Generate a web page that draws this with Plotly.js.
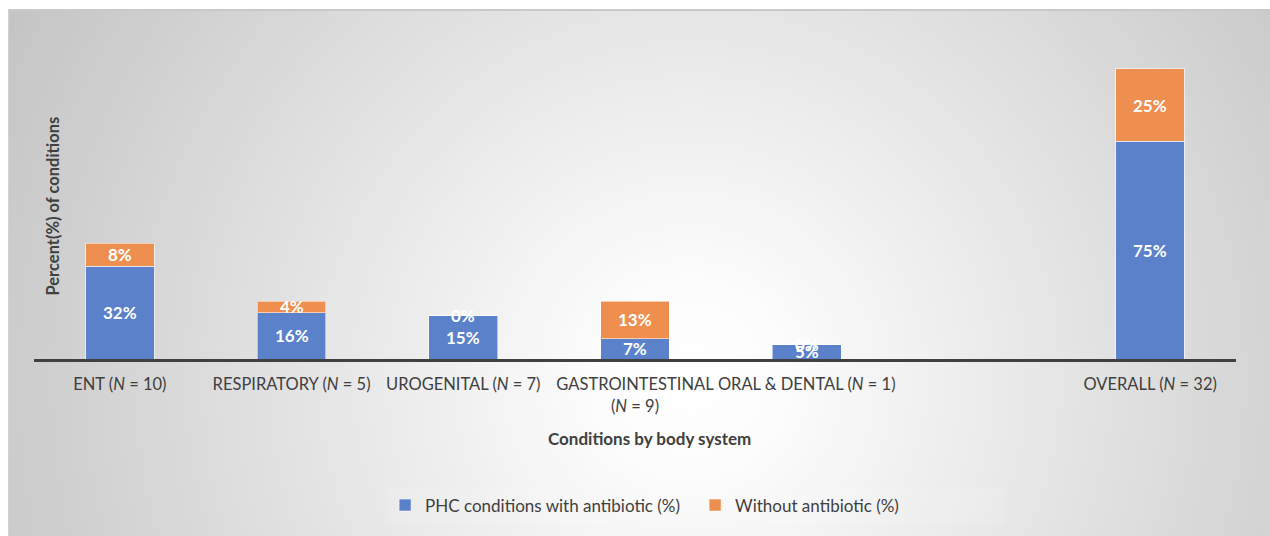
<!DOCTYPE html>
<html>
<head>
<meta charset="utf-8">
<script src="https://cdn.plot.ly/plotly-3.0.1.min.js"></script>
<style>
  html, body { margin: 0; padding: 0; background: #ffffff; width: 1270px; height: 536px; overflow: hidden; }
  #frame {
    position: absolute; left: 8px; top: 9px; width: 1262px; height: 527px;
    background: radial-gradient(circle farthest-corner at 54% 70%, #ffffff 0%, #fcfcfc 12%, #c4c4c4 100%);
    border-top: 2px solid #c9c9c9; border-left: 1px solid #d2d2d2; box-sizing: border-box;
  }
  #chart { position: absolute; left: 8px; top: 9px; width: 1262px; height: 527px; }
</style>
</head>
<body>
<div id="frame"></div>
<div id="chart"></div>
<script>
const categories = [
  "ENT (<i>N</i> = 10)",
  "RESPIRATORY (<i>N</i> = 5)",
  "UROGENITAL (<i>N</i> = 7)",
  "GASTROINTESTINAL<br>(<i>N</i> = 9)",
  "ORAL & DENTAL (<i>N</i> = 1)",
  " ",
  "OVERALL (<i>N</i> = 32)"
];
const withAntibiotic = [32, 16, 15, 7, 5, null, 75];
const withoutAntibiotic = [8, 4, 0, 13, 0, null, 25];
const seriesNames = ["PHC conditions with antibiotic (%)", "Without antibiotic (%)"];
const colors = ["#5A81C9", "#EF8F4F"];
const xTitle = "Conditions by body system";
const yTitle = "Percent(%) of conditions";

const font = "Lato, 'Open Sans', sans-serif";

const traces = [
  {
    type: "bar", x: categories, y: withAntibiotic, name: seriesNames[0],
    marker: { color: colors[0], line: { color: "rgba(255,255,255,0.55)", width: 1 } },
    hoverinfo: "skip"
  },
  {
    type: "bar", x: categories, y: withoutAntibiotic, name: seriesNames[1],
    marker: { color: colors[1], line: { color: "rgba(255,255,255,0.55)", width: 1 } },
    hoverinfo: "skip"
  }
];

const labelFont = { family: font, size: 17, color: "#ffffff", weight: "bold" };
const annotations = [];
categories.forEach((c, i) => {
  const a = withAntibiotic[i], b = withoutAntibiotic[i];
  if (a === null) return;
  annotations.push({ x: c, y: a / 2, xref: "x", yref: "y", text: a + "%", showarrow: false, font: labelFont });
  annotations.push({ x: c, y: a + b / 2, xref: "x", yref: "y", text: b + "%", showarrow: false, font: labelFont });
});
annotations.push({
  xref: "paper", yref: "paper", x: 0.015, y: 0.51, xanchor: "center", yanchor: "middle",
  text: yTitle, textangle: -90, showarrow: false,
  font: { family: font, size: 16.5, color: "#404040", weight: "bold" }
});
annotations.push({
  xref: "paper", yref: "paper", x: 0.512, y: -0.266, xanchor: "center", yanchor: "middle",
  text: xTitle, showarrow: false,
  font: { family: font, size: 17, color: "#404040", weight: "bold" }
});

const layout = {
  width: 1262, height: 527,
  margin: { l: 26, r: 34, t: 51, b: 175 },
  paper_bgcolor: "rgba(0,0,0,0)",
  plot_bgcolor: "rgba(0,0,0,0)",
  barmode: "stack",
  bargap: 0.6,
  font: { family: font, color: "#404040", size: 16.5 },
  xaxis: {
    type: "category",
    showgrid: false, zeroline: false,
    showline: true, linecolor: "#404040", linewidth: 2.5,
    ticks: "outside", ticklen: 9, tickcolor: "rgba(0,0,0,0)",
    tickfont: { family: font, size: 16.5, color: "#404040" }
  },
  yaxis: {
    range: [0, 103.1],
    showgrid: false, zeroline: false, showline: false, showticklabels: false, ticks: ""
  },
  showlegend: true,
  legend: {
    orientation: "h", x: 0.55, xanchor: "center", y: -0.49, yanchor: "middle",
    bgcolor: "rgba(255,255,255,0.1)",
    font: { family: font, size: 17, color: "#404040" },
    traceorder: "normal", itemwidth: 30,
    entrywidth: 265, entrywidthmode: "pixels"
  },
  annotations: annotations
};

Plotly.newPlot("chart", traces, layout, { displayModeBar: false, staticPlot: true });
</script>
</body>
</html>
